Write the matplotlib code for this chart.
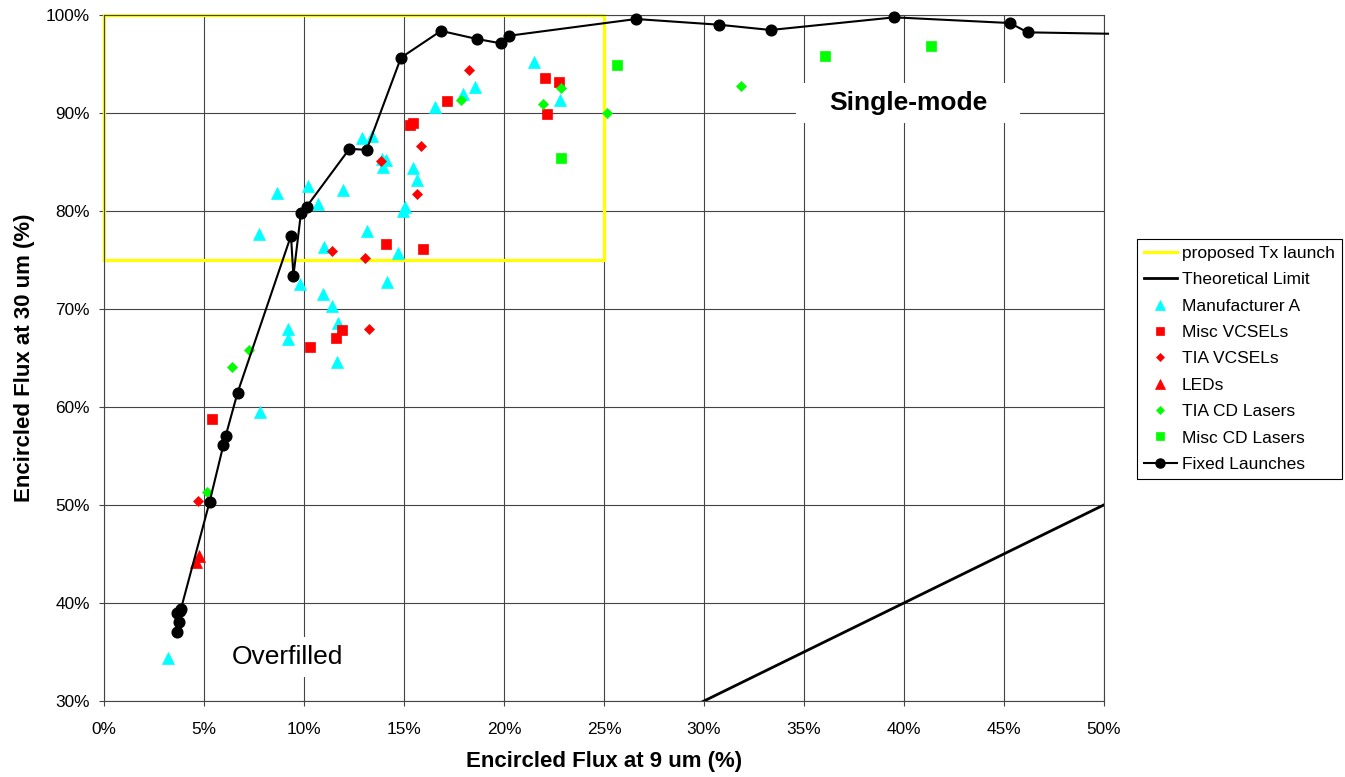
import matplotlib
matplotlib.use("Agg")
import matplotlib.pyplot as plt
from matplotlib.patches import Rectangle

plt.rcParams['font.family'] = ['Liberation Sans', 'DejaVu Sans']

# ---------------- data ----------------
x_ticks = [0, 5, 10, 15, 20, 25, 30, 35, 40, 45, 50]
x_tick_labels = ["0%", "5%", "10%", "15%", "20%", "25%", "30%", "35%", "40%", "45%", "50%"]
y_ticks = [30, 40, 50, 60, 70, 80, 90, 100]
y_tick_labels = ["30%", "40%", "50%", "60%", "70%", "80%", "90%", "100%"]

# proposed Tx launch region (outline)
tx_x = [0, 25, 25, 0, 0]
tx_y = [75, 75, 100, 100, 75]

# theoretical limit y = x
theo_x = [0, 50]
theo_y = [0, 50]

mfa_x = [3.18, 7.8, 11.63, 9.18, 9.18, 11.72, 11.42, 10.93, 9.8, 14.17, 14.72, 11.0,
         13.13, 7.77, 14.93, 15.05, 10.68, 8.63, 11.93, 10.22, 15.67, 15.43, 13.97,
         13.88, 14.08, 12.88, 13.38, 16.55, 17.93, 18.55, 21.5, 22.8]
mfa_y = [34.4, 59.5, 64.6, 67.9, 66.9, 68.5, 70.3, 71.5, 72.5, 72.7, 75.7, 76.3,
         77.9, 77.6, 80.0, 80.35, 80.7, 81.8, 82.1, 82.55, 83.1, 84.3, 84.4,
         85.3, 85.2, 87.4, 87.6, 90.55, 91.9, 92.6, 95.2, 91.3]

mvcsel_x = [5.42, 10.3, 11.58, 11.92, 14.08, 15.97, 15.3, 15.47, 17.17, 22.05, 22.77, 22.17]
mvcsel_y = [58.8, 66.05, 67.05, 67.85, 76.6, 76.05, 88.75, 88.9, 91.2, 93.5, 93.15, 89.85]

tvcsel_x = [4.68, 11.38, 13.05, 13.27, 13.85, 15.67, 15.87, 18.27]
tvcsel_y = [50.4, 75.9, 75.15, 67.95, 85.1, 81.7, 86.6, 94.35]

led_x = [4.6, 4.77]
led_y = [44.2, 44.8]

tcd_x = [5.17, 6.42, 7.27, 17.85, 21.93, 22.83, 25.13, 31.83]
tcd_y = [51.3, 64.1, 65.75, 91.3, 90.9, 92.55, 89.95, 92.7]

mcd_x = [22.87, 25.67, 36.07, 41.35]
mcd_y = [85.35, 94.85, 95.8, 96.75]

fixed_x = [3.65, 3.75, 3.65, 3.8, 3.85, 5.28, 5.97, 6.08, 6.68, 9.35, 9.47, 9.85, 10.13,
           12.27, 13.13, 14.85, 16.85, 18.65, 19.85, 20.27, 26.6, 30.73, 33.33, 39.52,
           45.3, 46.18, 50.2]
fixed_y = [37.0, 38.1, 39.0, 39.2, 39.4, 50.3, 56.1, 57.0, 61.45, 77.45, 73.35, 79.8, 80.4,
           86.3, 86.2, 95.6, 98.33, 97.5, 97.06, 97.84, 99.54, 98.96, 98.42, 99.71,
           99.13, 98.18, 98.04]

# ---------------- figure ----------------
W, H = 1345, 777
fig = plt.figure(figsize=(W / 100, H / 100), dpi=100)
ax = fig.add_axes([104 / W, 1 - 701 / H, 1000 / W, (701 - 14.5) / H])

grid_c = '#444444'
ax.set_xlim(0, 50)
ax.set_ylim(30, 100)
ax.set_xticks(x_ticks)
ax.set_xticklabels(x_tick_labels)
ax.set_yticks(y_ticks)
ax.set_yticklabels(y_tick_labels)
ax.grid(True, color=grid_c, lw=0.8)
ax.set_axisbelow(True)
for s in ax.spines.values():
    s.set_color(grid_c)
    s.set_linewidth(0.8)
ax.tick_params(direction='out', length=3.6, width=0.8, color=grid_c, labelsize=12.4)
ax.tick_params(axis='x', pad=11.8)
ax.tick_params(axis='y', pad=6.5)

ax.plot(tx_x, tx_y, color='#FFFF00', lw=2.3, clip_on=False, zorder=2,
        label='proposed Tx launch')
ax.plot(theo_x, theo_y, color='black', lw=2.0, zorder=2, label='Theoretical Limit')
ax.plot(mfa_x, mfa_y, ls='none', marker='^', ms=8, color='#00FFFF', mec='#00FFFF',
        mew=0.5, zorder=3, label='Manufacturer A')
ax.plot(mvcsel_x, mvcsel_y, ls='none', marker='s', ms=7.5, color='#FF0000', mec='#FF0000',
        mew=0.5, zorder=3, label='Misc VCSELs')
ax.plot(tvcsel_x, tvcsel_y, ls='none', marker='D', ms=5.3, color='#FF0000', mec='#FF0000',
        mew=0.5, zorder=3, label='TIA VCSELs')
ax.plot(led_x, led_y, ls='none', marker='^', ms=8, color='#FF0000', mec='#FF0000',
        mew=0.5, zorder=3, label='LEDs')
ax.plot(tcd_x, tcd_y, ls='none', marker='D', ms=5.3, color='#00FF00', mec='#00FF00',
        mew=0.5, zorder=3, label='TIA CD Lasers')
ax.plot(mcd_x, mcd_y, ls='none', marker='s', ms=7.5, color='#00FF00', mec='#00FF00',
        mew=0.5, zorder=3, label='Misc CD Lasers')
ax.plot(fixed_x, fixed_y, color='black', lw=1.5, marker='o', ms=7.7,
        markevery=list(range(len(fixed_x) - 1)), clip_on=False, zorder=4,
        label='Fixed Launches')

ax.set_xlabel('Encircled Flux at 9 um (%)', fontsize=16, fontweight='bold', labelpad=10)
ax.set_ylabel('Encircled Flux at 30 um (%)', fontsize=16, fontweight='bold', labelpad=8)

t1 = ax.text(40.2, 90.27, 'Single-mode', fontsize=19, fontweight='bold',
             ha='center', va='baseline', zorder=6)
t2 = ax.text(9.175, 33.79, 'Overfilled', fontsize=19, ha='center', va='baseline', zorder=6)

leg = ax.legend(loc='upper left', bbox_to_anchor=(1137 / W, 1 - 239 / H),
                bbox_transform=fig.transFigure, frameon=True, fancybox=False,
                edgecolor='black', framealpha=1, borderaxespad=0, fontsize=12.5,
                handlelength=1.9, handletextpad=0.28, labelspacing=0.645,
                borderpad=0.4, markerscale=0.85)
leg.get_frame().set_linewidth(0.8)

# white backdrops behind the two region labels
fig.canvas.draw()
renderer = fig.canvas.get_renderer()
inv = ax.transData.inverted()
for t, padx, pady in ((t1, 33, 8), (t2, 15, 8)):
    bb = t.get_window_extent(renderer)
    (x0, y0) = inv.transform((bb.x0 - padx, bb.y0 - pady))
    (x1, y1) = inv.transform((bb.x1 + padx, bb.y1 + pady))
    ax.add_patch(Rectangle((x0, y0), x1 - x0, y1 - y0, facecolor='white',
                           edgecolor='none', zorder=5))

fig.savefig('out.png', dpi=100)
